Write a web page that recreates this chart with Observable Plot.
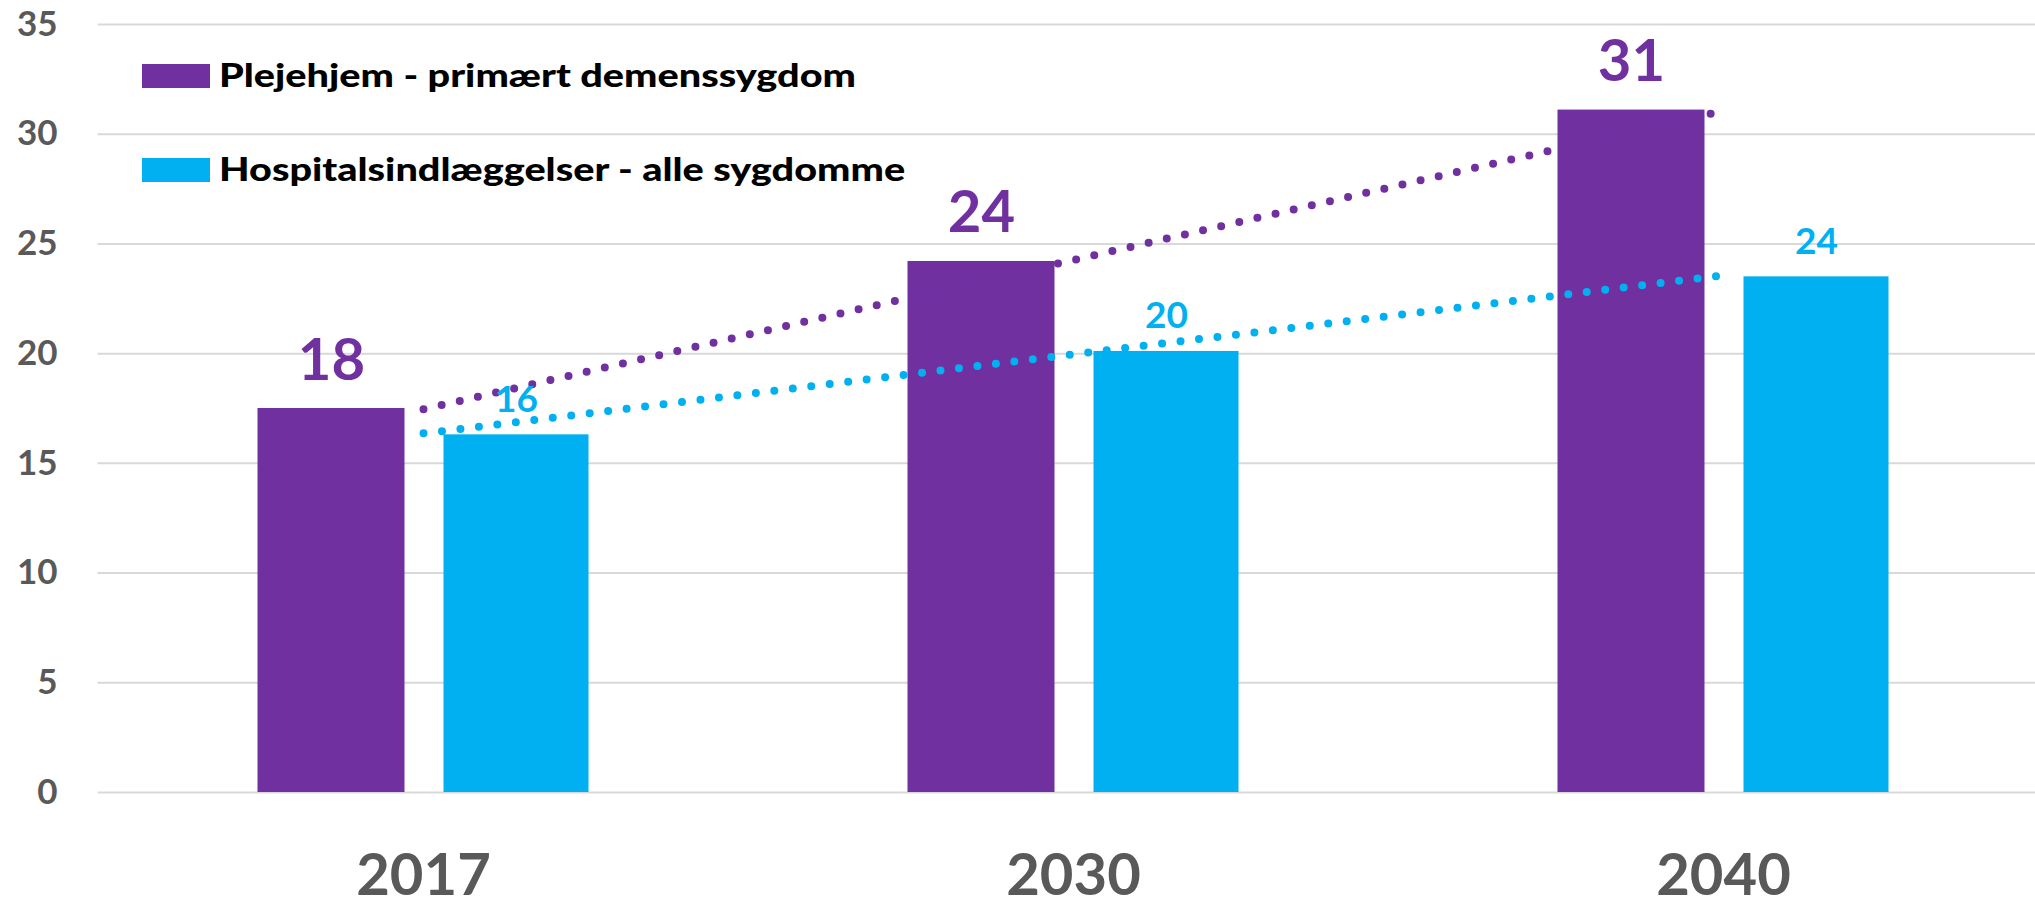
<!DOCTYPE html>
<html>
<head>
<meta charset="utf-8">
<script src="https://cdn.jsdelivr.net/npm/d3@7"></script>
<script src="https://cdn.jsdelivr.net/npm/@observablehq/plot@0.6"></script>
<style>
  html, body { margin: 0; padding: 0; background: #fff; }
  #wrap { position: relative; width: 2035px; height: 898px; overflow: hidden; font-family: Lato, "Open Sans", sans-serif; }
  .sw { position: absolute; width: 68px; height: 24px; }
  .lt { position: absolute; font-size: 33px; font-weight: 900; line-height: 1.2; color: #000; white-space: nowrap;
        transform: scaleX(1.2); transform-origin: 0 0; }
</style>
</head>
<body>
<div id="wrap"></div>
<script>
// ---- data ----
const years = ["2017", "2030", "2040"];
const seriesNames = ["Plejehjem - primært demenssygdom", "Hospitalsindlæggelser - alle sygdomme"];
const plejehjem = [17.5, 24.2, 31.1];
const hospital = [16.3, 20.1, 23.5];
const yTicks = [0, 5, 10, 15, 20, 25, 30, 35];
const colors = ["#7030A0", "#00B0F0"];

// ---- derived tables ----
const rowsP = years.map((year, i) => ({year, value: plejehjem[i]}));
const rowsH = years.map((year, i) => ({year, value: hospital[i]}));

// Linear trendline (least squares) over category index, like Excel's trendline
function trend(vals) {
  const xs = vals.map((_, i) => i + 1);
  const mx = d3.mean(xs), my = d3.mean(vals);
  const slope = d3.sum(xs, (x, i) => (x - mx) * (vals[i] - my)) / d3.sum(xs, x => (x - mx) ** 2);
  return xs.map((x, i) => ({year: years[i], value: my + slope * (x - mx)}));
}
const trendP = trend(plejehjem);
const trendH = trend(hospital);

const chart = Plot.plot({
  width: 2035,
  height: 898,
  marginLeft: 97.5,
  marginRight: 0,
  marginTop: 24,
  marginBottom: 106,
  style: {fontFamily: "Lato, 'Open Sans', sans-serif", background: "white", overflow: "visible"},
  x: {domain: years, range: [97.5, 2047.5], padding: 0},
  y: {domain: [0, 35]},
  marks: [
    Plot.ruleY(yTicks, {stroke: "#D9D9D9", strokeWidth: 2}),
    Plot.barY(rowsP, {x: "year", y: "value", fill: colors[0], insetLeft: 159.5, insetRight: 343.5}),
    Plot.barY(rowsH, {x: "year", y: "value", fill: colors[1], insetLeft: 345.5, insetRight: 159.5}),
    Plot.line(trendP, {x: "year", y: "value", stroke: colors[0], strokeWidth: 8, strokeDasharray: "0 18.6", strokeLinecap: "round"}),
    Plot.line(trendH, {x: "year", y: "value", stroke: colors[1], strokeWidth: 8, strokeDasharray: "0 18.6", strokeLinecap: "round"}),
    Plot.text(rowsP, {x: "year", y: "value", text: d => String(Math.round(d.value)), dx: -92, dy: -29,
      lineAnchor: "bottom", fontSize: 58, fontWeight: "bold", fill: colors[0]}),
    Plot.text(rowsH, {x: "year", y: "value", text: d => String(Math.round(d.value)), dx: 93, dy: -23,
      lineAnchor: "bottom", fontSize: 37, fontWeight: "bold", fill: colors[1]}),
    Plot.axisY({ticks: yTicks, tickSize: 0, tickPadding: 40.5, fontSize: 35, fontWeight: "bold", fill: "#595959", label: null}),
    Plot.axisX({tickSize: 0, tickPadding: 61, fontSize: 58, fontWeight: "bold", fill: "#595959", label: null})
  ]
});

const wrap = document.getElementById("wrap");
wrap.appendChild(chart);

// legend (overlaid inside plot area, top-left)
const legendPos = [{sw: 64, base: 88}, {sw: 158, base: 182}];
seriesNames.forEach((name, i) => {
  const sw = document.createElement("div");
  sw.className = "sw";
  sw.style.left = "142px";
  sw.style.top = legendPos[i].sw + "px";
  sw.style.background = colors[i];
  wrap.appendChild(sw);
  const t = document.createElement("div");
  t.className = "lt";
  t.style.left = "219px";
  t.style.top = (legendPos[i].base - 0.987 * 33) + "px";
  t.textContent = name;
  wrap.appendChild(t);
});
</script>
</body>
</html>
